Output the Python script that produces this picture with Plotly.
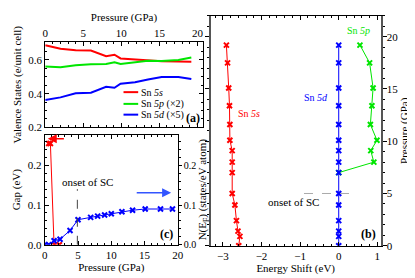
import plotly.graph_objects as go

# ---------- data ----------
# panel (a): valence states vs pressure
pressure_a = [0, 2, 4, 6, 8, 9.1, 9.9, 11.8, 13.5, 15.3, 17.5, 19.2]
sn5s_val = [0.687, 0.666, 0.657, 0.656, 0.622, 0.631, 0.609, 0.602, 0.600, 0.592, 0.590, 0.589]
sn5p_val = [0.561, 0.556, 0.568, 0.575, 0.576, 0.586, 0.576, 0.586, 0.595, 0.594, 0.600, 0.615]
sn5d_val = [0.362, 0.378, 0.402, 0.406, 0.441, 0.435, 0.459, 0.468, 0.484, 0.499, 0.499, 0.487]
legend_names = ["Sn <i>5s</i>", "Sn <i>5p</i> (×2)", "Sn <i>5d</i> (×5)"]

# panel (c): gap and N(E_F)
gap_pressure = [0.6, 0.85, 1.4, 2.2]
gap_ev = [0.255, 0.255, 0.0, 0.0]
nef_pressure = [0, 0.6, 1.4, 2.3, 3.8, 5.0, 6.9, 7.95, 9.0, 10.0, 11.6, 13.2, 15.1, 17.4, 19.2]
nef_vals = [0.0, 0.0, 0.010, 0.014, 0.036, 0.063, 0.069, 0.072, 0.075, 0.078, 0.083, 0.087, 0.090, 0.090, 0.090]

# panel (b): energy shifts vs pressure
pressure_b = [0, 0.9, 1.4, 2.4, 3.9, 5.0, 7.0, 8.0, 9.1, 10.1, 11.6, 13.4, 15.1, 17.5, 19.2]
shift_5s = [-2.59, -2.56, -2.61, -2.65, -2.69, -2.76, -2.76, -2.76, -2.76, -2.82, -2.82, -2.83, -2.85, -2.88, -2.91]
shift_5d = [0.0] * len(pressure_b)
pressure_5p = [7.0, 8.0, 9.1, 10.1, 11.6, 13.4, 15.1, 17.5, 19.2]
shift_5p = [0.0, 0.91, 0.83, 0.99, 0.82, 0.86, 0.89, 0.80, 0.55]

onset_p = 5.0

RED, GREEN, BLUE = "#ff0000", "#00e600", "#0000ff"
FONT = "Liberation Serif"
W, H = 415, 278

def px(v):
    return v / W

def py(v):
    return 1 - v / H

def xmarker(col):
    return dict(symbol="x-thin", size=5, color=col, line=dict(color=col, width=2))

fig = go.Figure()

# panel (a)
for vals, col, nm in zip([sn5s_val, sn5p_val, sn5d_val], [RED, GREEN, BLUE], legend_names):
    fig.add_trace(go.Scatter(x=pressure_a, y=vals, mode="lines", name=nm,
                             line=dict(color=col, width=2), xaxis="x", yaxis="y",
                             showlegend=False))

# panel (c)
fig.add_trace(go.Scatter(x=gap_pressure, y=gap_ev, mode="lines+markers",
                         line=dict(color=RED, width=1), marker=xmarker(RED),
                         xaxis="x2", yaxis="y2", showlegend=False))
fig.add_trace(go.Scatter(x=nef_pressure, y=nef_vals, mode="lines+markers",
                         line=dict(color=BLUE, width=1), marker=xmarker(BLUE),
                         xaxis="x2", yaxis="y3", showlegend=False))

# panel (b)
fig.add_trace(go.Scatter(x=shift_5s, y=pressure_b, mode="lines+markers",
                         line=dict(color=RED, width=1), marker=xmarker(RED),
                         xaxis="x3", yaxis="y4", showlegend=False))
fig.add_trace(go.Scatter(x=shift_5p, y=pressure_5p, mode="lines+markers",
                         line=dict(color=GREEN, width=1), marker=xmarker(GREEN),
                         xaxis="x3", yaxis="y4", showlegend=False))
fig.add_trace(go.Scatter(x=shift_5d, y=pressure_b, mode="lines+markers",
                         line=dict(color=BLUE, width=1), marker=xmarker(BLUE),
                         xaxis="x3", yaxis="y4", showlegend=False))

tf = dict(size=11, family=FONT, color="black")
axis_common = dict(showline=True, linecolor="black", linewidth=1, mirror="ticks",
                   ticks="inside", ticklen=4, tickcolor="black", showgrid=False,
                   zeroline=False, tickfont=tf)

def ttl(text, standoff):
    return dict(text=text, standoff=standoff, font=tf)

fig.update_layout(
    width=W, height=H, margin=dict(l=0, r=0, t=0, b=0),
    paper_bgcolor="white", plot_bgcolor="white",
    font=dict(family=FONT, size=11, color="black"),
    xaxis=dict(axis_common, domain=[px(35), px(196)], range=[0, 20.7], side="top",
               anchor="y", tickvals=[0, 5, 10, 15, 20],
               minor=dict(dtick=1, ticks="inside", ticklen=2, tickcolor="black"),
               title=ttl("Pressure (GPa)", 2)),
    yaxis=dict(axis_common, domain=[py(122), py(35)], range=[0.2, 0.705], anchor="x",
               tickvals=[0.2, 0.4, 0.6],
               minor=dict(dtick=0.05, ticks="inside", ticklen=2, tickcolor="black"),
               title=ttl("Valence States (e/unit cell)", 4)),
    xaxis2=dict(axis_common, domain=[px(34.5), px(170.5)], range=[0, 20], anchor="y2",
                tickvals=[0, 5, 10, 15, 20],
                minor=dict(dtick=1, ticks="inside", ticklen=2, tickcolor="black"),
                title=ttl("Pressure (GPa)", 0)),
    yaxis2=dict(axis_common, domain=[py(242), py(129.5)], range=[0, 0.277], anchor="x2",
                tickvals=[0, 0.1, 0.2], tickformat=".1f", mirror=False,
                minor=dict(dtick=0.02, ticks="inside", ticklen=2, tickcolor="black"),
                title=ttl("Gap (eV)", 4)),
    yaxis3=dict(axis_common, domain=[py(242), py(129.5)], range=[0, 0.277], anchor="x2",
                overlaying="y2", side="right", mirror=False, ticks="outside", ticklen=3,
                tickvals=[0, 0.1, 0.2], tickformat=".1f",
                tickfont=dict(size=10, family=FONT, color="black"),
                minor=dict(dtick=0.02, ticks="outside", ticklen=2, tickcolor="black"),
                title=ttl("N(E<sub>F</sub>) (states/eV atom)", 0)),
    xaxis3=dict(axis_common, domain=[px(204), px(378)], range=[-3.32, 1.09], anchor="y4",
                tickvals=[-3, -2, -1, 0, 1],
                minor=dict(dtick=0.2, ticks="inside", ticklen=2, tickcolor="black"),
                title=ttl("Energy Shift (eV)", 0)),
    yaxis4=dict(axis_common, domain=[py(243), py(8)], range=[0, 22], anchor="x3",
                side="right", ticks="outside", ticklen=4, tickvals=[0, 5, 10, 15, 20],
                ticklabelstandoff=-2,
                linecolor="#555555", linewidth=1.5,
                minor=dict(dtick=1, ticks="outside", ticklen=2, tickcolor="black"),
                title=ttl("Pressure (GPa)", 0)),
)

# dashed onset lines
fig.add_shape(type="line", xref="x2", yref="y2", x0=onset_p - 0.1, x1=onset_p - 0.1,
              y0=0, y1=0.14, line=dict(color="#444444", width=1, dash="dash"))
fig.add_shape(type="line", xref="x3", yref="y4", x0=-0.9, x1=0.3, y0=onset_p, y1=onset_p,
              line=dict(color="#aaaaaa", width=1, dash="dash"))

ann = []
# arrows in panel (c)
ann.append(dict(xref="x2", yref="y2", axref="x2", ayref="y2", x=0.45, y=0.267, ax=3.1, ay=0.267,
                showarrow=True, arrowhead=2, arrowsize=1.2, arrowwidth=1.5, arrowcolor=RED, text=""))
ann.append(dict(xref="x2", yref="y3", axref="x2", ayref="y3", x=19.0, y=0.131, ax=13.6, ay=0.131,
                showarrow=True, arrowhead=2, arrowsize=1.2, arrowwidth=1.5, arrowcolor="#3355ff", text=""))
# text labels
ann.append(dict(xref="x2", yref="y2", x=6.4, y=0.158, text="onset of SC", showarrow=False,
                font=dict(size=11, family=FONT)))
ann.append(dict(xref="x2", yref="y2", x=19.6, y=0.005, xanchor="right", yanchor="bottom",
                text="<b>(c)</b>", showarrow=False, font=dict(size=12, family=FONT)))
ann.append(dict(xref="x", yref="y", x=20.55, y=0.205, xanchor="right", yanchor="bottom",
                text="<b>(a)</b>", showarrow=False, font=dict(size=12, family=FONT)))
ann.append(dict(xref="x3", yref="y4", x=-2.32, y=12.7, text="Sn <i>5s</i>", showarrow=False,
                font=dict(size=10, family=FONT, color=RED)))
ann.append(dict(xref="x3", yref="y4", x=-0.58, y=14.2, text="Sn <i>5d</i>", showarrow=False,
                font=dict(size=10, family=FONT, color=BLUE)))
ann.append(dict(xref="x3", yref="y4", x=0.51, y=20.6, text="Sn <i>5p</i>", showarrow=False,
                font=dict(size=10, family=FONT, color=GREEN)))
ann.append(dict(xref="x3", yref="y4", x=-1.17, y=4.2, text="onset of SC", showarrow=False,
                font=dict(size=11, family=FONT)))
ann.append(dict(xref="x3", yref="y4", x=1.02, y=0.3, xanchor="right", yanchor="bottom",
                text="<b>(b)</b>", showarrow=False, font=dict(size=12, family=FONT)))

# legend for panel (a), drawn as line swatches + text
leg_y = [86, 98, 109]
for nm, col, yy in zip(legend_names, [RED, GREEN, BLUE], leg_y):
    fig.add_shape(type="line", xref="paper", yref="paper", x0=px(115), x1=px(130),
                  y0=py(yy), y1=py(yy), line=dict(color=col, width=2))
    ann.append(dict(xref="paper", yref="paper", x=px(131), y=py(yy), xanchor="left",
                    yanchor="middle", text=nm, showarrow=False,
                    font=dict(size=10, family=FONT)))

fig.update_layout(annotations=ann)
fig.write_html("out.html")
